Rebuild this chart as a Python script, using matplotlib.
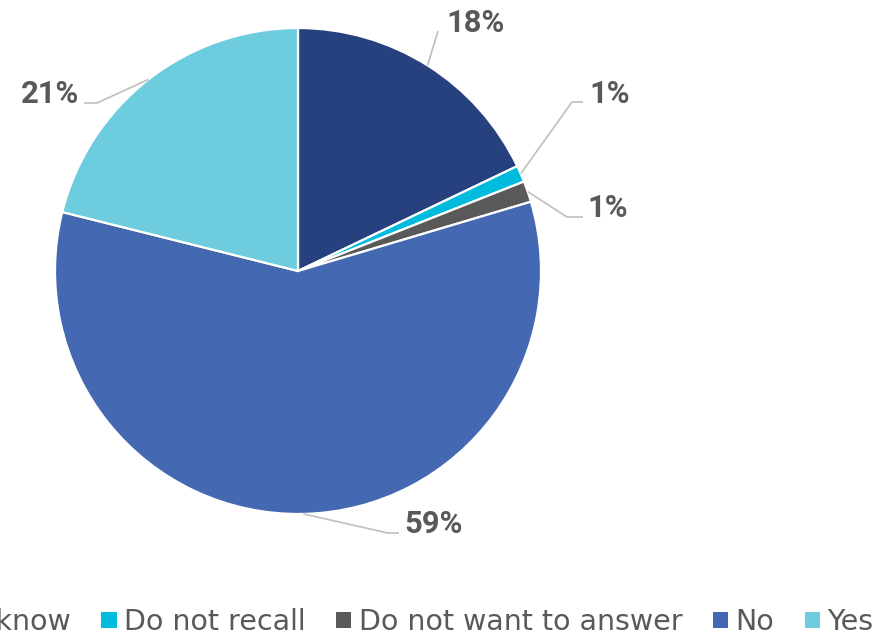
import numpy as np
import matplotlib
matplotlib.use("Agg")
import matplotlib.pyplot as plt
from matplotlib.patches import Patch

categories = ["Don't know", "Do not recall", "Do not want to answer", "No", "Yes"]
values = [17.9, 1.1, 1.4, 58.5, 21.1]
labels = ["18%", "1%", "1%", "59%", "21%"]
colors = ["#27407E", "#00BBDD", "#595959", "#4468B1", "#6DCDDF"]

W, H = 878, 640
CX, CY, R = 298, 271, 243  # pie center / radius in pixels (layout)

fig = plt.figure(figsize=(W / 100, H / 100), dpi=100)
ax = fig.add_axes([0, 0, 1, 1])

def px(x, y):
    return ((x - CX) / R, (CY - y) / R)

wedges, _ = ax.pie(values, colors=colors, startangle=90, counterclock=False,
                   radius=1.0, wedgeprops=dict(edgecolor="white", linewidth=1.6))

ax.set_xlim(-CX / R, (W - CX) / R)
ax.set_ylim(-(H - CY) / R, CY / R)
ax.axis("off")

# label layout: (elbow px, end px, text anchor px, ha)
layout = [
    ((438, 31), (438, 31), (446, 32), "left"),
    ((572, 102), (583, 102), (589, 103), "left"),
    ((567, 217), (583, 217), (587, 217), "left"),
    ((388, 533), (399, 533), (404, 533), "left"),
    ((97, 103), (84, 103), (79, 103), "right"),
]

line_color = "#BFBFBF"
for w, lab, (elb, end, tpos, ha) in zip(wedges, labels, layout):
    mid = np.deg2rad((w.theta1 + w.theta2) / 2)
    sx, sy = np.cos(mid) * w.r, np.sin(mid) * w.r
    ex, ey = px(*elb)
    fx, fy = px(*end)
    ax.plot([sx, ex, fx], [sy, ey, fy], color=line_color, lw=1.2,
            solid_capstyle="butt", zorder=1)
    tx, ty = px(*tpos)
    ax.text(tx, ty, lab, ha=ha, va="baseline", fontsize=22.3,
            fontweight="bold", family=["Roboto", "DejaVu Sans"], color="#595959")

handles = [Patch(facecolor=c, edgecolor="none") for c in colors]
leg = ax.legend(handles, categories, loc="center", bbox_to_anchor=(0.4334, 0.028),
                bbox_transform=fig.transFigure, ncol=5, frameon=False,
                fontsize=20.5, handlelength=0.53, handleheight=0.53,
                handletextpad=0.25, columnspacing=1.09, borderpad=0,
                borderaxespad=0)
for t in leg.get_texts():
    t.set_color("#595959")

fig.savefig("out.png", dpi=100)
